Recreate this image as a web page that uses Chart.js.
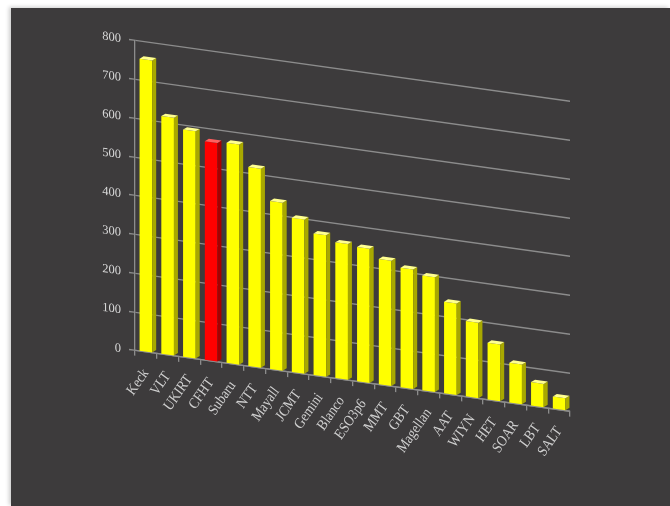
<!DOCTYPE html>
<html>
<head>
<meta charset="utf-8">
<script src="https://cdn.jsdelivr.net/npm/chart.js@4"></script>
<style>
    html, body { margin: 0; padding: 0; background: #ffffff; }
    #panel {
        position: absolute;
        left: 11px;
        top: 8px;
        width: 659px;
        height: 498px;
        background: #3d3b3c;
        box-shadow: -2px -1px 4px rgba(0, 0, 0, 0.2);
    }
</style>
</head>
<body>
<div id="panel"><canvas id="telescopiosChart"></canvas></div>
<script>
const telescopios = ['Keck', 'VLT', 'UKIRT', 'CFHT', 'Subaru', 'NTT', 'Mayall', 'JCMT', 'Gemini', 'Blanco',
    'ESO3p6', 'MMT', 'GBT', 'Magellan', 'AAT', 'WIYN', 'HET', 'SOAR', 'LBT', 'SALT'];
const valores = [755, 615, 588, 566, 570, 515, 435, 400, 367, 352, 348, 325, 310, 298, 238, 196, 148, 104, 62, 33];
const destaque = 'CFHT';
const yTicks = [0, 100, 200, 300, 400, 500, 600, 700, 800];

const corFrente = telescopios.map(t => t === destaque ? '#ff0000' : '#ffff00');
const corLado = telescopios.map(t => t === destaque ? '#a80000' : '#a8a800');
const corTopo = telescopios.map(t => t === destaque ? '#ff6060' : '#ffff90');

// inclinação para imitar a perspectiva do gráfico 3D
const inclinacao = 0.14;
const origemX = 119;

const efeito3d = {
    id: 'efeito3d',
    beforeDraw(chart) {
        chart.ctx.save();
        chart.ctx.transform(1, inclinacao, 0, 1, 0, -inclinacao * origemX);
    },
    afterDatasetsDraw(chart) {
        const ctx = chart.ctx;
        const meta = chart.getDatasetMeta(0);
        const d = 4, dy = 3;
        meta.data.forEach((bar, i) => {
            const p = bar.getProps(['x', 'y', 'base', 'width'], true);
            const l = p.x - p.width / 2, r = p.x + p.width / 2;
            ctx.fillStyle = corLado[i];
            ctx.beginPath();
            ctx.moveTo(r, p.y);
            ctx.lineTo(r + d, p.y - dy);
            ctx.lineTo(r + d, p.base - dy);
            ctx.lineTo(r, p.base);
            ctx.closePath();
            ctx.fill();
            ctx.fillStyle = corTopo[i];
            ctx.beginPath();
            ctx.moveTo(l, p.y);
            ctx.lineTo(r, p.y);
            ctx.lineTo(r + d, p.y - dy);
            ctx.lineTo(l + d, p.y - dy);
            ctx.closePath();
            ctx.fill();
        });
    },
    afterDraw(chart) {
        chart.ctx.restore();
    }
};

const ctx = document.getElementById('telescopiosChart').getContext('2d');
const telescopiosChart = new Chart(ctx, {
    type: 'bar',
    data: {
        labels: telescopios,
        datasets: [{
            data: valores,
            backgroundColor: corFrente,
            borderWidth: 0,
            barPercentage: 0.58,
            categoryPercentage: 1
        }]
    },
    options: {
        responsive: true,
        maintainAspectRatio: false,
        animation: false,
        layout: {
            padding: { top: 32, right: 100, left: 0, bottom: 0 }
        },
        plugins: {
            legend: { display: false },
            tooltip: { enabled: false }
        },
        scales: {
            y: {
                min: 0,
                max: 800,
                afterFit: function(scale) {
                    scale.width = 124;
                },
                afterBuildTicks: function(scale) {
                    scale.ticks = yTicks.map(v => ({ value: v }));
                },
                grid: {
                    color: '#8c8c8c',
                    lineWidth: 1.3,
                    tickLength: 6
                },
                border: {
                    display: true,
                    color: '#8c8c8c',
                    width: 1.3
                },
                ticks: {
                    color: '#d8d8d8',
                    padding: 8,
                    font: { family: '"Liberation Serif", "DejaVu Serif", serif', size: 12.5 }
                }
            },
            x: {
                afterFit: function(scale) {
                    scale.height = 156;
                },
                grid: {
                    drawOnChartArea: false,
                    color: '#8c8c8c',
                    lineWidth: 1.3,
                    tickLength: 5
                },
                border: {
                    display: true,
                    color: '#8c8c8c',
                    width: 1.3
                },
                ticks: {
                    color: '#cfcfcf',
                    autoSkip: false,
                    maxRotation: 58,
                    minRotation: 58,
                    padding: 9,
                    font: { family: '"Liberation Serif", "DejaVu Serif", serif', size: 14 }
                }
            }
        }
    },
    plugins: [efeito3d]
});
</script>
</body>
</html>
